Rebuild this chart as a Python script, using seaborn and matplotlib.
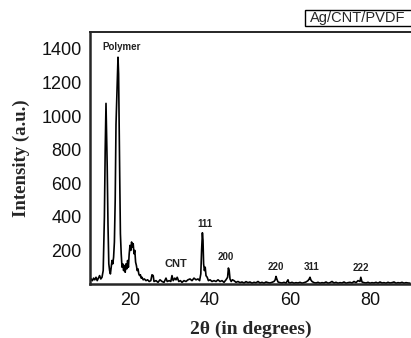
import numpy as np
import pandas as pd
import matplotlib
matplotlib.use("Agg")
import matplotlib.pyplot as plt
from matplotlib.patches import Rectangle
import seaborn as sns

# XRD pattern of Ag/CNT/PVDF
two_theta = [
    10.0, 10.3, 10.6, 10.9, 11.2, 11.5, 11.8, 12.1, 12.4, 12.7, 13.0, 13.3,
    13.6, 13.8, 14.0, 14.15, 14.3, 14.5, 14.7, 14.9, 15.1, 15.3, 15.5, 15.7,
    15.9, 16.1, 16.3, 16.5, 16.8, 17.0, 17.15, 17.3, 17.45, 17.6, 17.8, 18.0,
    18.2, 18.4, 18.6, 18.8, 19.0, 19.2, 19.4, 19.6, 19.8, 20.0, 20.2, 20.4,
    20.6, 20.8, 21.0, 21.2, 21.4, 21.6, 21.8, 22.0, 22.2, 22.4, 22.6, 22.8,
    23.0, 23.3, 23.6, 24.0, 24.4, 24.8, 25.2, 25.5, 25.8, 26.0, 26.5, 27.0,
    27.5, 28.0, 28.5, 29.0, 29.3, 29.8, 30.2, 30.5, 30.8, 31.2, 31.5, 31.8,
    32.2, 32.6, 33.0, 33.5, 34.0, 34.5, 35.0, 35.5, 36.0, 36.5, 37.0, 37.4,
    37.7, 37.9, 38.1, 38.25, 38.4, 38.6, 38.8, 39.0, 39.3, 39.6, 40.0, 40.5,
    41.0, 41.5, 42.0, 42.5, 43.0, 43.5, 44.0, 44.4, 44.6, 44.8, 45.0, 45.3,
    45.6, 46.0, 46.5, 47.0, 47.5, 48.0, 48.5, 49.0, 49.5, 50.0, 50.5, 51.0,
    51.5, 52.0, 52.5, 53.0, 53.5, 54.0, 54.5, 55.0, 55.5, 56.0, 56.3, 56.5,
    56.7, 57.0, 57.5, 58.0, 58.5, 59.0, 59.5, 59.7, 60.0, 60.5, 61.0, 61.5,
    62.0, 62.5, 63.0, 63.5, 64.0, 64.5, 64.8, 65.0, 65.2, 65.5, 66.0, 66.5,
    67.0, 67.5, 68.0, 68.5, 69.0, 69.5, 70.0, 70.5, 71.0, 71.5, 72.0, 72.5,
    73.0, 73.5, 74.0, 74.5, 75.0, 75.5, 76.0, 76.5, 77.0, 77.5, 77.7, 78.0,
    78.5, 79.0, 79.5, 80.0, 80.5, 81.0, 81.5, 82.0, 82.5, 83.0, 83.5, 84.0,
    84.5, 85.0, 85.5, 86.0, 86.5, 87.0, 87.5, 88.0, 88.5, 89.0, 89.5, 90.0,
]
intensity = [
    15, 30, 20, 35, 25, 40, 20, 35, 50, 30, 40, 80,
    400, 800, 1075, 900, 700, 350, 120, 80, 60, 100, 140, 120,
    160, 250, 500, 950, 1200, 1350, 1250, 900, 600, 300, 180, 100,
    120, 80, 110, 70, 120, 90, 140, 100, 180, 230, 200, 250,
    220, 240, 180, 200, 130, 110, 80, 90, 60, 50, 55, 35,
    40, 25, 30, 20, 25, 15, 20, 55, 50, 15, 20, 10,
    25, 15, 10, 35, 15, 20, 15, 50, 20, 35, 25, 40,
    15, 20, 10, 20, 15, 25, 30, 20, 35, 25, 30, 20,
    60, 200, 305, 260, 120, 80, 100, 50, 40, 20, 25, 15,
    20, 15, 25, 15, 20, 10, 25, 40, 95, 80, 30, 15,
    25, 20, 10, 15, 8, 12, 6, 14, 8, 12, 5, 10,
    7, 15, 6, 10, 5, 12, 8, 6, 10, 15, 25, 45,
    30, 12, 8, 6, 10, 5, 25, 8, 6, 10, 5, 8,
    6, 10, 5, 8, 12, 20, 30, 40, 25, 15, 8, 6,
    10, 5, 8, 6, 12, 5, 8, 15, 6, 10, 5, 8,
    6, 12, 5, 8, 10, 6, 15, 8, 20, 15, 40, 12,
    8, 6, 10, 5, 8, 6, 10, 5, 12, 6, 8, 5,
    10, 6, 8, 12, 5, 8, 6, 10, 5, 8, 6, 5,
]

peak_labels = ["Polymer", "CNT", "111", "200", "220", "311", "222"]
label_x = [18.0, 31.5, 38.8, 44.0, 56.5, 65.3, 77.8]
label_y = [1380, 90, 330, 128, 70, 70, 65]

df = pd.DataFrame({"two_theta": two_theta, "intensity": intensity})

sns.set_style("ticks")
plt.rcParams["font.family"] = ["Liberation Sans", "DejaVu Sans"]

fig = plt.figure(figsize=(4.11, 3.38), dpi=100)
ax = fig.add_axes([90 / 411, (338 - 284) / 338, (411 - 90) / 411, (284 - 32) / 338])

sns.lineplot(data=df, x="two_theta", y="intensity", ax=ax, color="black",
             linewidth=1.2, estimator=None, sort=False)

for lab, lx, ly in zip(peak_labels, label_x, label_y):
    ax.text(lx, ly, lab, ha="center", va="bottom", fontsize=7 if lab != "CNT" else 8,
            fontweight="bold", color="#222222")

ax.set_xlim(10, 90.25)
ax.set_ylim(0, 1500)
ax.set_xticks([20, 40, 60, 80])
ax.set_yticks([200, 400, 600, 800, 1000, 1200, 1400])
ax.tick_params(axis="both", length=0, labelsize=13, colors="#111111")
ax.tick_params(axis="y", pad=6)
ax.tick_params(axis="x", pad=6)

ax.spines["right"].set_visible(False)
ax.spines["left"].set_linewidth(1.8)
ax.spines["bottom"].set_linewidth(1.8)
ax.spines["top"].set_linewidth(1.4)

ax.set_xlabel("2θ (in degrees)", family=["Liberation Serif", "DejaVu Serif"],
              fontsize=14, fontweight="bold", labelpad=8)
ax.set_ylabel("Intensity (a.u.)", family=["Liberation Serif", "DejaVu Serif"],
              fontsize=13.5, fontweight="bold", labelpad=8)

fig.patches.append(Rectangle((305 / 411, 1 - 26 / 338), 120 / 411, 16 / 338,
                             transform=fig.transFigure, facecolor="white",
                             edgecolor="black", linewidth=1))
fig.text(310 / 411, 1 - 18 / 338, "Ag/CNT/PVDF", fontsize=10.5, va="center", ha="left")

fig.savefig("out.png", dpi=100)
